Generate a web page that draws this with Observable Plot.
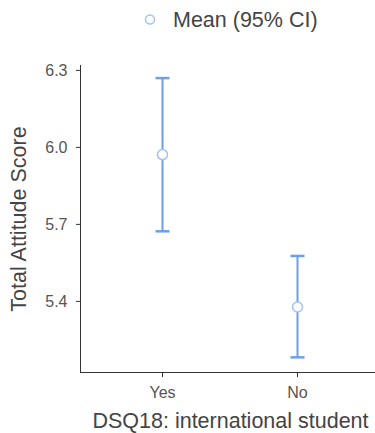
<!DOCTYPE html>
<html>
<head>
<meta charset="utf-8">
<script src="https://cdn.jsdelivr.net/npm/d3@7"></script>
<script src="https://cdn.jsdelivr.net/npm/@observablehq/plot@0.6"></script>
<style>
  html, body { margin: 0; padding: 0; background: #fff; }
  body { width: 375px; height: 433px; overflow: hidden; font-family: "Liberation Sans", Arial, sans-serif; }
  #legend { height: 45px; position: relative; }
  #chart svg { display: block; }
</style>
</head>
<body>
<div id="legend">
  <svg width="375" height="45">
    <circle cx="150" cy="19.5" r="4.5" fill="white" stroke="#a4c2f4" stroke-width="1.5"></circle>
    <text x="173" y="27" font-size="21.5" fill="#444" font-family="Liberation Sans, Arial, sans-serif">Mean (95% CI)</text>
  </svg>
</div>
<div id="chart"></div>
<script>
const groups = ["Yes", "No"];
const means = [5.972, 5.378];
const lower = [5.673, 5.182];
const upper = [6.27, 5.577];
const yTicks = [5.4, 5.7, 6.0, 6.3];
const xTitle = "DSQ18: international student";
const yTitle = "Total Attitude Score";

const data = groups.map((g, i) => ({group: g, mean: means[i], lo: lower[i], hi: upper[i]}));

const barColor = "#6d9eeb";
const dotColor = "#a4c2f4";

// horizontal cap symbol for error bars
const capSymbol = {
  draw(context) {
    context.moveTo(-7, 0);
    context.lineTo(7, 0);
  }
};

const chart = Plot.plot({
  width: 375,
  height: 388,
  marginLeft: 80,
  marginRight: 0,
  marginTop: 20,
  marginBottom: 61,
  style: {fontFamily: "Liberation Sans, Arial, sans-serif", fontSize: "16px", background: "white"},
  x: {type: "point", domain: groups, padding: 0.5846, align: 0.51},
  y: {domain: [5.123, 6.319]},
  marks: [
    Plot.axisY({ticks: yTicks, tickFormat: d3.format(".1f"), tickSize: 4, tickPadding: 9, label: null, fontSize: 16, stroke: "#333", fill: "#555"}),
    Plot.axisX({tickSize: 5, tickPadding: 9, label: null, fontSize: 16, stroke: "#333", fill: "#555"}),
    Plot.frame({anchor: "left", stroke: "#333"}),
    Plot.frame({anchor: "bottom", stroke: "#333"}),
    Plot.ruleX(data, {x: "group", y1: "lo", y2: "hi", stroke: barColor, strokeWidth: 2}),
    Plot.dot(data, {x: "group", y: "hi", symbol: capSymbol, stroke: barColor, strokeWidth: 2.5, fill: "none"}),
    Plot.dot(data, {x: "group", y: "lo", symbol: capSymbol, stroke: barColor, strokeWidth: 2.5, fill: "none"}),
    Plot.dot(data, {x: "group", y: "mean", r: 5, fill: "white", stroke: dotColor, strokeWidth: 1.5}),
    Plot.text([yTitle], {frameAnchor: "left", textAnchor: "middle", lineAnchor: "middle", dx: -61, dy: 0, rotate: -90, fontSize: 21.5, fill: "#444"}),
    Plot.text([xTitle], {frameAnchor: "bottom", textAnchor: "middle", lineAnchor: "middle", dx: 2.5, dy: 48.5, fontSize: 21.5, fill: "#444"})
  ]
});
document.getElementById("chart").appendChild(chart);
</script>
</body>
</html>
